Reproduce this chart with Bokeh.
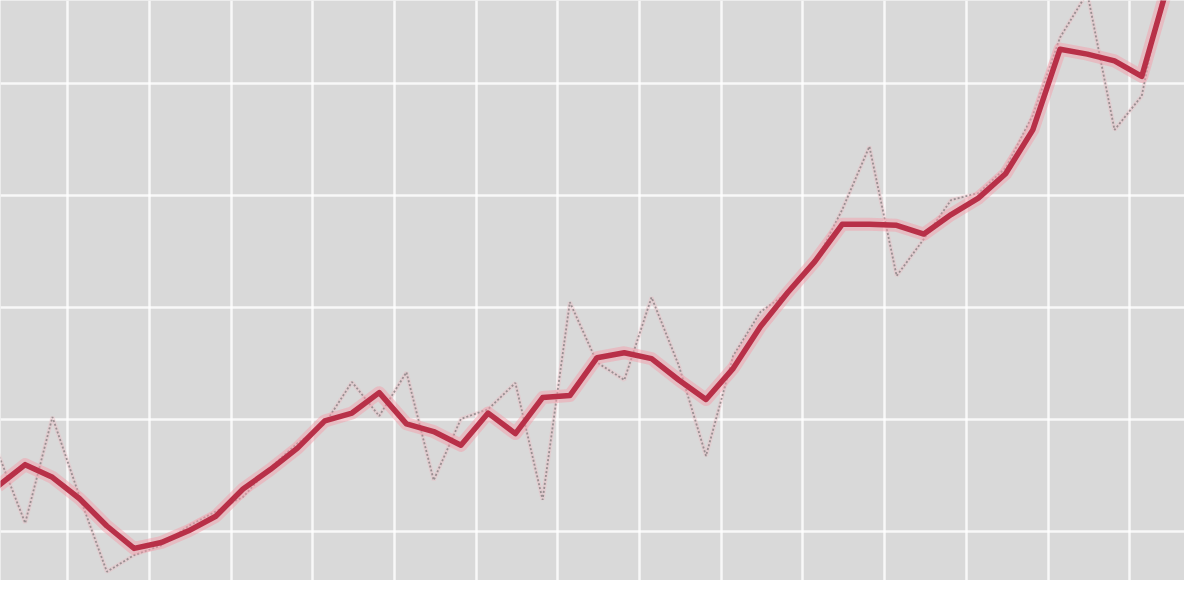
from bokeh.plotting import figure
from bokeh.models import Range1d, FixedTicker
from bokeh.embed import file_html
from bokeh.resources import INLINE

# data (index positions)
idx = list(range(44))
raw = [7.03, 0.78, 10.24, 3.12, -3.56, -2.08, -1.21, 0.52, 1.82, 3.12, 5.73, 7.90,
       9.63, 13.36, 10.33, 14.23, 4.60, 10.07, 10.93, 13.28, 2.86, 20.48, 15.10, 13.54,
       20.91, 14.84, 6.77, 15.70, 19.61, 21.34, 23.95, 28.72, 34.36, 22.82, 26.12, 29.59,
       30.20, 32.45, 37.14, 44.08, 48.07, 35.84, 38.87, 50.85]
smooth = [4.08, 5.99, 4.86, 2.95, 0.52, -1.48, -0.95, 0.09, 1.39, 3.82, 5.55, 7.46,
          9.89, 10.59, 12.41, 9.63, 8.94, 7.72, 10.59, 8.76, 11.97, 12.15, 15.53, 15.97,
          15.44, 13.54, 11.80, 14.58, 18.31, 21.34, 24.12, 27.42, 27.42, 27.33, 26.55, 28.29,
          29.76, 31.93, 35.84, 43.04, 42.60, 42.00, 40.61, 49.11]
x_ticks = [2.56, 5.56, 8.56, 11.56, 14.56, 17.56, 20.56, 23.56, 26.56, 29.56, 32.56,
           35.56, 38.56, 41.56]
y_ticks = [0, 10, 20, 30, 40]

p = figure(width=1184, height=580, output_backend="svg", toolbar_location=None,
           x_range=Range1d(0.094, 43.57), y_range=Range1d(-4.34, 47.38),
           min_border=0, min_border_left=0, min_border_right=0,
           min_border_top=0, min_border_bottom=0)
p.background_fill_color = "#d9d9d9"
p.border_fill_color = "#d9d9d9"
p.outline_line_color = None

p.xaxis.ticker = FixedTicker(ticks=x_ticks)
p.yaxis.ticker = FixedTicker(ticks=y_ticks)
p.xgrid.ticker = FixedTicker(ticks=x_ticks)
p.ygrid.ticker = FixedTicker(ticks=y_ticks)
p.xaxis.visible = False
p.yaxis.visible = False
for g in (p.xgrid, p.ygrid):
    g.grid_line_color = "white"
    g.grid_line_width = 2.5
    g.grid_line_alpha = 0.8

p.line(idx, raw, line_color="#f2b8c0", line_width=4, line_alpha=0.35)
p.line(idx, raw, line_color="#8c8486", line_width=1.8, line_dash="2 2", line_alpha=0.85)
p.line(idx, smooth, line_color="#f4a0ac", line_width=13, line_alpha=0.5, line_join="round")
p.line(idx, smooth, line_color="#b83048", line_width=5.5, line_join="round")

open("out.html", "w").write(file_html(p, INLINE))
